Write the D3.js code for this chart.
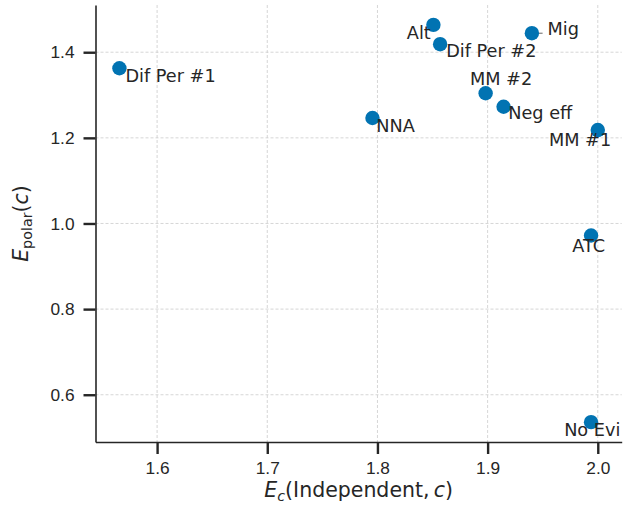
<!DOCTYPE html>
<html lang="en">
<head>
    <meta charset="UTF-8">
    <title>E polar vs E independent</title>
    <script src="https://d3js.org/d3.v7.min.js"></script>
    <style>
        body { margin: 0; background: #fff; }
        svg { display: block; font-family: "DejaVu Sans", sans-serif; }
        .grid line { stroke: #cccccc; stroke-width: 0.8; stroke-dasharray: 3,2; }
        .axis path { stroke: #262626; stroke-width: 1.6; }
        .axis line { stroke: #262626; stroke-width: 2.4; }
        .axis text { fill: #262626; font-size: 17.3px; }
    </style>
</head>
<body>
<div id="chart"></div>
<script>
    // data
    const names = ["Dif Per #1", "Alt", "Dif Per #2", "Mig", "MM #2", "Neg eff", "NNA", "MM #1", "ATC", "No Evi"];
    const ecIndependent = [1.5658, 1.8508, 1.8569, 1.9402, 1.8982, 1.9145, 1.7955, 2.0, 1.9939, 1.9939];
    const ePolar = [1.3626, 1.4639, 1.4187, 1.4444, 1.3041, 1.2727, 1.2463, 1.2182, 0.972, 0.536];
    const xTicks = [1.6, 1.7, 1.8, 1.9, 2.0];
    const yTicks = [0.6, 0.8, 1.0, 1.2, 1.4];

    // label placement (pixels from the point): anchor, dx, dy
    const labelPlace = {
        "Dif Per #1": ["start", 6, 13.4],
        "Alt": ["end", -2.6, 14.3],
        "Dif Per #2": ["start", 6, 12.4],
        "Mig": ["start", 15.7, 1.7],
        "MM #2": ["start", -15.7, -8.3],
        "Neg eff": ["start", 4.6, 12.6],
        "NNA": ["start", 3.7, 13.7],
        "MM #1": ["end", 13.4, 16],
        "ATC": ["end", 14, 16.4],
        "No Evi": ["end", 29.3, 14]
    };

    const width = 632, height = 510;
    const plotLeft = 95.5, plotRight = 621.7, plotTop = 5, plotBottom = 442;

    const points = names.map((n, i) => ({name: n, x: ecIndependent[i], y: ePolar[i]}));

    function padded(vals) {
        const [lo, hi] = d3.extent(vals);
        const m = (hi - lo) * 0.05;
        return [lo - m, hi + m];
    }

    const x = d3.scaleLinear().domain(padded(ecIndependent)).range([plotLeft, plotRight]);
    const y = d3.scaleLinear().domain(padded(ePolar)).range([plotBottom, plotTop]);

    const svg = d3.select("#chart").append("svg")
        .attr("width", width)
        .attr("height", height);

    // grid
    const grid = svg.append("g").attr("class", "grid");
    grid.selectAll("line.v").data(xTicks).join("line")
        .attr("class", "v")
        .attr("x1", d => x(d)).attr("x2", d => x(d))
        .attr("y1", plotTop).attr("y2", plotBottom);
    grid.selectAll("line.h").data(yTicks).join("line")
        .attr("class", "h")
        .attr("x1", plotLeft).attr("x2", plotRight)
        .attr("y1", d => y(d)).attr("y2", d => y(d));

    const fmt = d3.format(".1f");

    svg.append("g")
        .attr("class", "axis")
        .attr("transform", `translate(0,${plotBottom})`)
        .call(d3.axisBottom(x).tickValues(xTicks).tickFormat(fmt).tickSize(12).tickPadding(8).tickSizeOuter(0));

    svg.append("g")
        .attr("class", "axis")
        .attr("transform", `translate(${plotLeft},0)`)
        .call(d3.axisLeft(y).tickValues(yTicks).tickFormat(fmt).tickSize(12).tickPadding(9).tickSizeOuter(0));

    // Mig has a short leader line, mostly hidden under the dot
    const mig = points.find(p => p.name === "Mig");
    svg.append("line")
        .attr("x1", x(mig.x)).attr("y1", y(mig.y))
        .attr("x2", x(mig.x) + labelPlace["Mig"][1] - 5)
        .attr("y2", y(mig.y))
        .attr("stroke", "#666")
        .attr("stroke-width", 1);

    svg.append("g")
        .selectAll("circle")
        .data(points)
        .join("circle")
        .attr("cx", d => x(d.x))
        .attr("cy", d => y(d.y))
        .attr("r", 7.2)
        .attr("fill", "#0173b2");

    svg.append("g")
        .selectAll("text")
        .data(points)
        .join("text")
        .attr("x", d => x(d.x) + labelPlace[d.name][1])
        .attr("y", d => y(d.y) + labelPlace[d.name][2])
        .attr("text-anchor", d => labelPlace[d.name][0])
        .attr("fill", "#262626")
        .attr("font-size", "17.7px")
        .text(d => d.name);

    // axis labels
    const xl = svg.append("text")
        .attr("x", (plotLeft + plotRight) / 2)
        .attr("y", 497)
        .attr("text-anchor", "middle")
        .attr("fill", "#262626")
        .attr("font-size", "20.5px");
    xl.append("tspan").attr("font-style", "italic").text("E");
    xl.append("tspan").attr("font-style", "italic").attr("font-size", "14.3px").attr("dy", 4).text("c");
    xl.append("tspan").attr("dy", -4).text("(Independent,\u2009");
    xl.append("tspan").attr("font-style", "italic").text("c");
    xl.append("tspan").text(")");

    const yl = svg.append("text")
        .attr("transform", `translate(28.3,${(plotTop + plotBottom) / 2}) rotate(-90)`)
        .attr("text-anchor", "middle")
        .attr("fill", "#262626")
        .attr("font-size", "20.5px");
    yl.append("tspan").attr("font-style", "italic").text("E");
    yl.append("tspan").attr("font-size", "14.3px").attr("dy", 4).text("polar");
    yl.append("tspan").attr("dy", -4).text("(");
    yl.append("tspan").attr("font-style", "italic").text("c");
    yl.append("tspan").text(")");
</script>
</body>
</html>
